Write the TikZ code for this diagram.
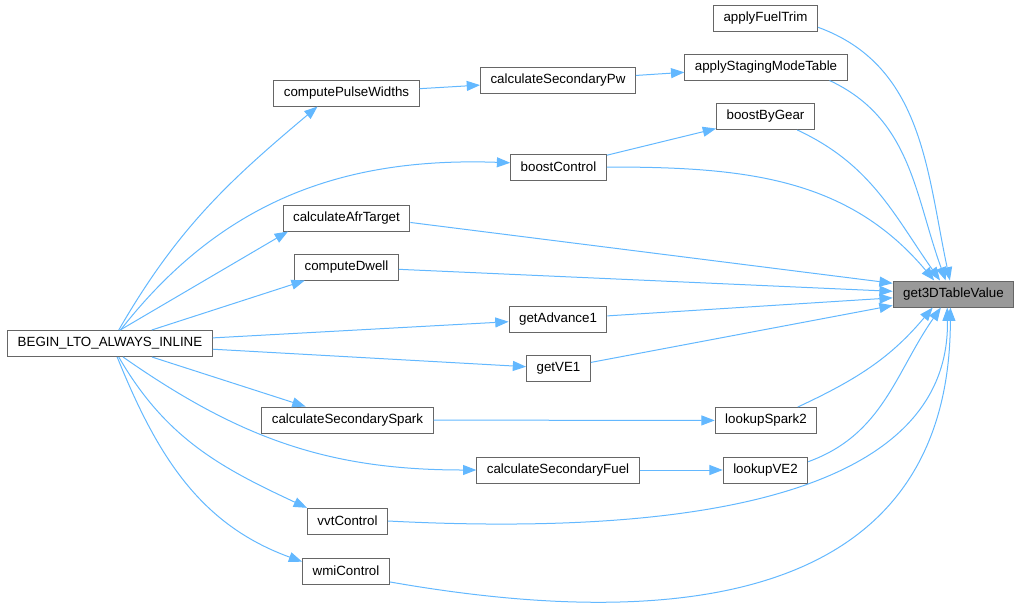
\documentclass[tikz,border=0pt]{standalone}
\usepackage{fontspec}
\setmainfont{Liberation Sans}
\usetikzlibrary{arrows.meta}
\definecolor{edgeblue}{HTML}{63B8FF}
\definecolor{boxgray}{HTML}{666666}
\definecolor{hitgray}{HTML}{999999}

\begin{document}
\begin{tikzpicture}[x=0.75pt,y=0.75pt,
    fn/.style={draw=boxgray,line width=0.75pt,fill=white,minimum height=19.5pt,
      inner xsep=7.5pt,inner ysep=0pt,font=\fontsize{10}{12}\selectfont},
    hit/.style={fn,fill=hitgray},
    call/.style={draw=edgeblue,line width=0.75pt,-{Triangle[length=10pt,width=7.5pt]}}]
    \useasboundingbox (0,0) rectangle (1019,-607);

    \node[fn] (begin) at (110,-343.5) {BEGIN\_LTO\_ALWAYS\_INLINE};

    \node[fn] (pulse) at (346.5,-93) {computePulseWidths};
    \node[fn] (afr) at (346.5,-218) {calculateAfrTarget};
    \node[fn] (dwell) at (346.5,-267) {computeDwell};
    \node[fn] (spark) at (347.5,-420) {calculateSecondarySpark};
    \node[fn] (vvt) at (347.5,-521) {vvtControl};
    \node[fn] (wmi) at (346,-571) {wmiControl};

    \node[fn] (secpw) at (558,-80.5) {calculateSecondaryPw};
    \node[fn] (boost) at (558.5,-167) {boostControl};
    \node[fn] (adv) at (558,-319) {getAdvance1};
    \node[fn] (ve1) at (558.5,-368.5) {getVE1};
    \node[fn] (fuel) at (558,-470) {calculateSecondaryFuel};

    \node[fn] (trim) at (765.5,-18) {applyFuelTrim};
    \node[fn] (staging) at (766,-67) {applyStagingModeTable};
    \node[fn] (gear) at (765.5,-116.5) {boostByGear};
    \node[fn] (spark2) at (766,-420.5) {lookupSpark2};
    \node[fn] (ve2) at (765.5,-470) {lookupVE2};

    \node[hit] (target) at (953.5,-294) {get3DTableValue};

    \draw[call] (begin.57) to[out=60,in=220] (pulse.205);
    \draw[call] (begin.52) to[out=52,in=178] (boost.175);
    \draw[call] (begin.53) -- (afr.193);
    \draw[call] (begin) -- (dwell);
    \draw[call] (begin) -- (adv);
    \draw[call] (begin) -- (ve1);
    \draw[call] (begin) -- (spark);
    \draw[call] (begin.-46) to[out=-35,in=180] (fuel.west);
    \draw[call] (begin.-57) to[out=-60,in=155] (vvt.162);
    \draw[call] (begin.-62) to[out=-68,in=160] (wmi.168);

    \draw[call] (pulse) -- (secpw);
    \draw[call] (secpw) -- (staging);
    \draw[call] (boost) -- (gear);
    \draw[call] (spark) -- (spark2);
    \draw[call] (fuel) -- (ve2);

    \draw[call] (trim.-10) to[out=-20,in=102] (target.105);
    \draw[call] (staging.-12) to[out=-25,in=110] (target.120);
    \draw[call] (gear.-23) to[out=-25,in=125] (target.135);
    \draw[call] (boost.east) to[out=0,in=130] (target.145);
    \draw[call] (afr.-4) -- (target.170);
    \draw[call] (dwell) -- (target);
    \draw[call] (adv) -- (target);
    \draw[call] (ve1) -- (target);
    \draw[call] (spark2.23) to[out=25,in=230] (target.213);
    \draw[call] (ve2.11) to[out=20,in=235] (target.227);
    \draw[call] (vvt.east) .. controls (760,-540) and (950,-470) .. (target.245);
    \draw[call] (wmi.-14) .. controls (720,-640) and (950,-580) .. (target.257);
\end{tikzpicture}
\end{document}
